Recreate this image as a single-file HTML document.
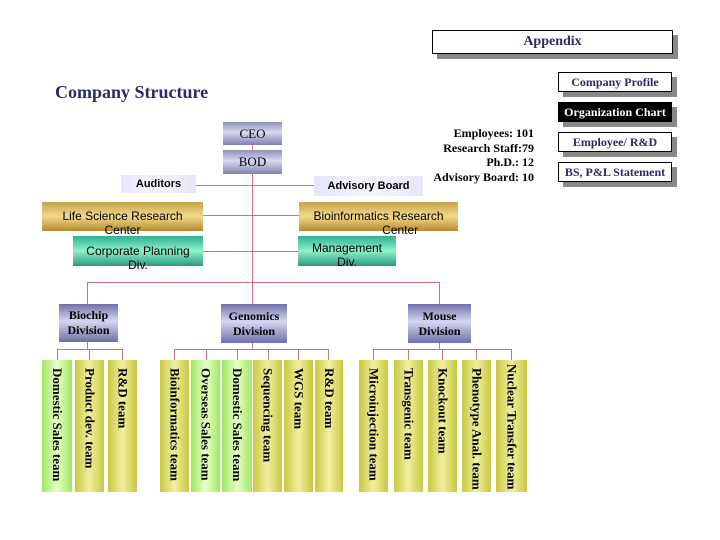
<!DOCTYPE html>
<html><head><style>
body{margin:0;width:720px;height:540px;background:#fff;position:relative;overflow:hidden;font-family:"Liberation Serif",serif}
.a{position:absolute;box-sizing:border-box}
.btn{border:1px solid #000;background:#fff;color:#2a2a6a;font-weight:bold;font-size:12px;text-align:center;box-shadow:5px 5px 0 #888}
.pur{background:linear-gradient(#8e8eb8,#d8d8f0 45%,#8080b0);color:#000;text-align:center;font-size:13px}
.lav{background:linear-gradient(90deg,#e6e6fa,#f4f4ff,#e6e6fa);font-family:"Liberation Sans",sans-serif;font-weight:bold;font-size:11px;text-align:center}
.gold{background:linear-gradient(#c9a24a,#f3d88a 50%,#b58a30);font-family:"Liberation Sans",sans-serif;font-size:12px;text-align:center;line-height:14px;padding-top:7px}
.teal{background:linear-gradient(#2fb090,#8ff0cc 50%,#2a9a80);font-family:"Liberation Sans",sans-serif;font-size:12px;text-align:center;line-height:14px;padding-top:8px}
.div{background:linear-gradient(#7070a8,#d6d6f0 45%,#7070a8);font-weight:bold;font-size:12px;text-align:center;line-height:15px;display:flex;align-items:center;justify-content:center}
.l{position:absolute;background:#d07080}
.t{position:absolute;top:360px;height:132px;writing-mode:vertical-rl;font-weight:bold;font-size:13px;text-align:left;padding-top:8px;box-sizing:border-box;display:flex;align-items:center;justify-content:flex-start}
.y{background:linear-gradient(90deg,#c8c840,#f0f0a0 50%,#c8c840)}
.g{background:linear-gradient(90deg,#a0e860,#e8ffc8 50%,#a0e860)}
</style></head><body>
<div class="a btn" style="left:432px;top:30px;width:241px;height:24px;font-size:14px;line-height:22px">Appendix</div>
<div class="a btn" style="left:558px;top:72px;width:114px;height:20px;line-height:18px">Company Profile</div>
<div class="a btn" style="left:558px;top:102px;width:114px;height:20px;line-height:18px;background:#000;color:#fff">Organization Chart</div>
<div class="a btn" style="left:558px;top:132px;width:114px;height:20px;line-height:18px">Employee/ R&amp;D</div>
<div class="a btn" style="left:558px;top:162px;width:114px;height:20px;line-height:18px">BS, P&amp;L Statement</div>
<div class="a" style="left:55px;top:82px;font-size:18px;font-weight:bold;color:#2a2a6a">Company Structure</div>
<div class="a" style="left:400px;top:126px;width:134px;text-align:right;font-weight:bold;font-size:12px;line-height:14.5px">Employees: 101<br>Research Staff:79<br>Ph.D.: 12<br>Advisory Board: 10</div>

<div class="l" style="left:252px;top:145px;width:1px;height:137px"></div>
<div class="l" style="left:196px;top:185px;width:118px;height:1px"></div>
<div class="l" style="left:203px;top:215px;width:96px;height:1px"></div>
<div class="l" style="left:203px;top:251px;width:95px;height:1px"></div>
<div class="l" style="left:87px;top:282px;width:352px;height:1px"></div>
<div class="l" style="left:87px;top:282px;width:1px;height:22px"></div>
<div class="l" style="left:439px;top:282px;width:1px;height:22px"></div>
<div class="l" style="left:252px;top:282px;width:1px;height:22px"></div>
<div class="l" style="left:87px;top:342px;width:1px;height:7px"></div>
<div class="l" style="left:252px;top:343px;width:1px;height:6px"></div>
<div class="l" style="left:439px;top:343px;width:1px;height:6px"></div>
<div class="l" style="left:57px;top:349px;width:66px;height:1px"></div>
<div class="l" style="left:174px;top:349px;width:154px;height:1px"></div>
<div class="l" style="left:373px;top:349px;width:138px;height:1px"></div>
<!-- team ticks -->
<div class="l" style="left:57px;top:349px;width:1px;height:11px"></div>
<div class="l" style="left:89px;top:349px;width:1px;height:11px"></div>
<div class="l" style="left:122px;top:349px;width:1px;height:11px"></div>
<div class="l" style="left:174px;top:349px;width:1px;height:11px"></div>
<div class="l" style="left:206px;top:349px;width:1px;height:11px"></div>
<div class="l" style="left:237px;top:349px;width:1px;height:11px"></div>
<div class="l" style="left:268px;top:349px;width:1px;height:11px"></div>
<div class="l" style="left:298px;top:349px;width:1px;height:11px"></div>
<div class="l" style="left:328px;top:349px;width:1px;height:11px"></div>
<div class="l" style="left:373px;top:349px;width:1px;height:11px"></div>
<div class="l" style="left:408px;top:349px;width:1px;height:11px"></div>
<div class="l" style="left:442px;top:349px;width:1px;height:11px"></div>
<div class="l" style="left:476px;top:349px;width:1px;height:11px"></div>
<div class="l" style="left:511px;top:349px;width:1px;height:11px"></div>

<div class="a pur" style="left:223px;top:122px;width:59px;height:23px;line-height:23px">CEO</div>
<div class="a pur" style="left:223px;top:150px;width:59px;height:24px;line-height:24px">BOD</div>
<div class="a lav" style="left:121px;top:175px;width:75px;height:18px;line-height:18px">Auditors</div>
<div class="a lav" style="left:314px;top:176px;width:109px;height:20px;line-height:20px">Advisory Board</div>
<div class="a gold" style="left:42px;top:202px;width:161px;height:29px">Life Science Research<br>Center</div>
<div class="a gold" style="left:299px;top:202px;width:159px;height:29px">Bioinformatics Research<br>&nbsp;&nbsp;&nbsp;&nbsp;&nbsp;&nbsp;&nbsp;&nbsp;&nbsp;&nbsp;&nbsp;&nbsp;&nbsp;Center</div>
<div class="a teal" style="left:73px;top:236px;width:130px;height:30px">Corporate Planning<br>Div.</div>
<div class="a teal" style="left:298px;top:236px;width:98px;height:30px;padding-top:5px">Management<br>Div.</div>
<div class="a div" style="left:59px;top:304px;width:59px;height:38px">Biochip<br>Division</div>
<div class="a div" style="left:221px;top:304px;width:66px;height:39px">Genomics<br>Division</div>
<div class="a div" style="left:408px;top:304px;width:63px;height:39px">Mouse<br>Division</div>

<div class="t g" style="left:42px;width:30px">Domestic Sales team</div>
<div class="t y" style="left:75px;width:29px">Product dev. team</div>
<div class="t y" style="left:108px;width:29px">R&amp;D team</div>
<div class="t y" style="left:160px;width:29px">Bioinformatics team</div>
<div class="t g" style="left:191px;width:29px">Overseas Sales team</div>
<div class="t g" style="left:222px;width:30px">Domestic Sales team</div>
<div class="t y" style="left:253px;width:29px">Sequencing team</div>
<div class="t y" style="left:284px;width:29px">WGS team</div>
<div class="t y" style="left:315px;width:28px">R&amp;D team</div>
<div class="t y" style="left:359px;width:29px">Microinjection team</div>
<div class="t y" style="left:394px;width:29px">Transgenic team</div>
<div class="t y" style="left:428px;width:29px">Knockout team</div>
<div class="t y" style="left:462px;width:29px">Phenotype Anal. team</div>
<div class="t y" style="left:496px;width:31px;padding-top:4px">Nuclear Transfer team</div>
</body></html>
